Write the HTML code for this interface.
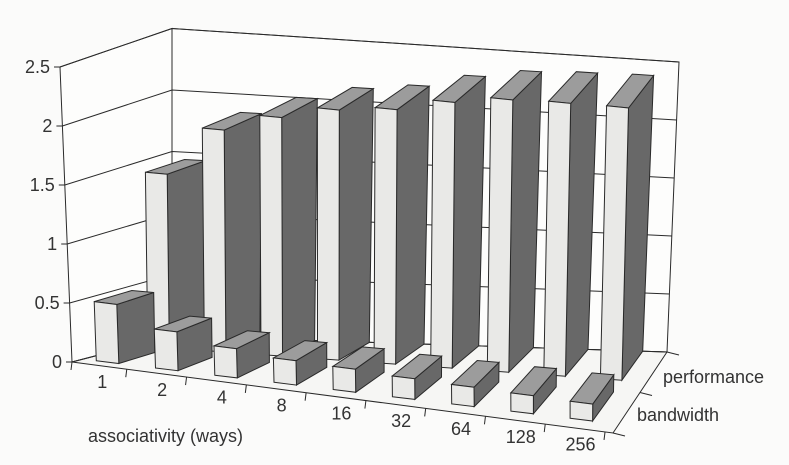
<!DOCTYPE html>
<html><head><meta charset="utf-8"><style>
html,body{margin:0;padding:0;background:#fbfbfa;}
svg{display:block;font-family:"Liberation Sans",Arial,sans-serif;}
</style></head><body>
<svg id="chart" width="789" height="465" viewBox="0 0 789 465" xmlns="http://www.w3.org/2000/svg">
<g id="walls"></g>
<g id="bars"></g>
<g id="labels"></g>
</svg>
<script>
const categories = ["1","2","4","8","16","32","64","128","256"];
const bandwidth = [0.5,0.33,0.25,0.21,0.2,0.18,0.17,0.16,0.15];
const performance = [1.44,1.85,2.0,2.11,2.16,2.27,2.34,2.36,2.37];
const yTicks = ["0","0.5","1","1.5","2","2.5"];
const seriesNames = ["bandwidth","performance"];
const yMax = 2.5;

const NS = "http://www.w3.org/2000/svg";
function bil(u,v,a,b,c,d){return (1-u)*(1-v)*a+u*(1-v)*b+(1-u)*v*c+u*v*d;}
function P(u,v,h){
  const x=bil(u,v,72,613,172,667)+h*bil(u,v,-4.8,0,0,4.8);
  const y=bil(u,v,362,433,336,352)-h*bil(u,v,118,112,123,116);
  return [x,y];
}
function mk(tag,attrs,parent){const e=document.createElementNS(NS,tag);for(const k in attrs)e.setAttribute(k,attrs[k]);parent.appendChild(e);return e;}
function pts(a){return a.map(p=>p[0].toFixed(1)+","+p[1].toFixed(1)).join(" ");}
const walls=document.getElementById("walls"),bars=document.getElementById("bars"),labels=document.getElementById("labels");
const stroke="#2a2a2a";

let bw=mk("polygon",{points:pts([P(0,1,0),P(1,1,0),P(1,1,yMax),P(0,1,yMax)]),fill:"#fdfdfc",stroke:stroke,"stroke-width":1},walls);


let lw=mk("polygon",{points:pts([P(0,0,0),P(0,1,0),P(0,1,yMax),P(0,0,yMax)]),fill:"#fdfdfc",stroke:stroke,"stroke-width":1},walls);


let fl=mk("polygon",{points:pts([P(0,0,0),P(1,0,0),P(1,1,0),P(0,1,0)]),fill:"#f6f6f4",stroke:stroke,"stroke-width":1},walls);


yTicks.forEach((t,i)=>{
  const h=parseFloat(t);
  const a=P(0,0,h),b=P(0,1,h),c=P(1,1,h);
  let g=mk("polyline",{points:pts([a,b,c]),fill:"none",stroke:stroke,"stroke-width":1},walls);
  
  
  let tk=mk("line",{x1:a[0],y1:a[1],x2:a[0]-6,y2:a[1],stroke:stroke,"stroke-width":1},walls);
  
  
  let tx=mk("text",{x:a[0]-10,y:a[1]+6,"text-anchor":"end","font-size":18,fill:"#333"},labels);
  tx.textContent=t;
  
  
});
[0,0.5,1].forEach(v=>{const a=P(1,v,0);
  let t=mk("line",{x1:a[0],y1:a[1],x2:a[0]+12,y2:a[1]+3,stroke:stroke,"stroke-width":1},walls);
  
  
});
const u0=0.046, du=0.1105, bwid=0.042;
for(let k=0;k<=categories.length;k++){
  const u=k===0?0:Math.min(1,u0+(k-0.5)*du);
  const a=P(u,0,0);
  let t=mk("line",{x1:a[0],y1:a[1],x2:a[0]-1,y2:a[1]+8,stroke:stroke,"stroke-width":1},walls);
  
  
}
function box(uc,v0,v1,h,name){
  const ua=uc-bwid/2,ub=uc+bwid/2;
  const g=mk("g",{},bars);
  
  
  mk("polygon",{points:pts([P(ub,v0,0),P(ub,v1,0),P(ub,v1,h),P(ub,v0,h)]),fill:"#686868",stroke:stroke,"stroke-width":1},g);
  mk("polygon",{points:pts([P(ua,v0,h),P(ub,v0,h),P(ub,v1,h),P(ua,v1,h)]),fill:"#9c9c9c",stroke:stroke,"stroke-width":1},g);
  mk("polygon",{points:pts([P(ua,v0,0),P(ub,v0,0),P(ub,v0,h),P(ua,v0,h)]),fill:"#e9e9e7",stroke:stroke,"stroke-width":1},g);
}
performance.forEach((val,i)=>{ if(val>0) box(u0+i*du,0.63,1.0,val,'performance-bar-'+categories[i]); });
bandwidth.forEach((val,i)=>{ box(u0+i*du,0.109,0.48,val,'bandwidth-bar-'+categories[i]); });
categories.forEach((c,i)=>{
  const a=P(u0+i*du+0.01,0,0);
  let t=mk("text",{x:a[0],y:a[1]+22,"text-anchor":"middle","font-size":18,fill:"#333"},labels);
  t.textContent=c;
  
  
});
let s1=mk("text",{x:663,y:383,"font-size":18,fill:"#333"},labels);
s1.textContent=seriesNames[1];


let s2=mk("text",{x:637,y:421,"font-size":18,fill:"#333"},labels);
s2.textContent=seriesNames[0];


let xt=mk("text",{x:88,y:442,"font-size":18,fill:"#333"},labels);
xt.textContent="associativity (ways)";


</script>
</body></html>
